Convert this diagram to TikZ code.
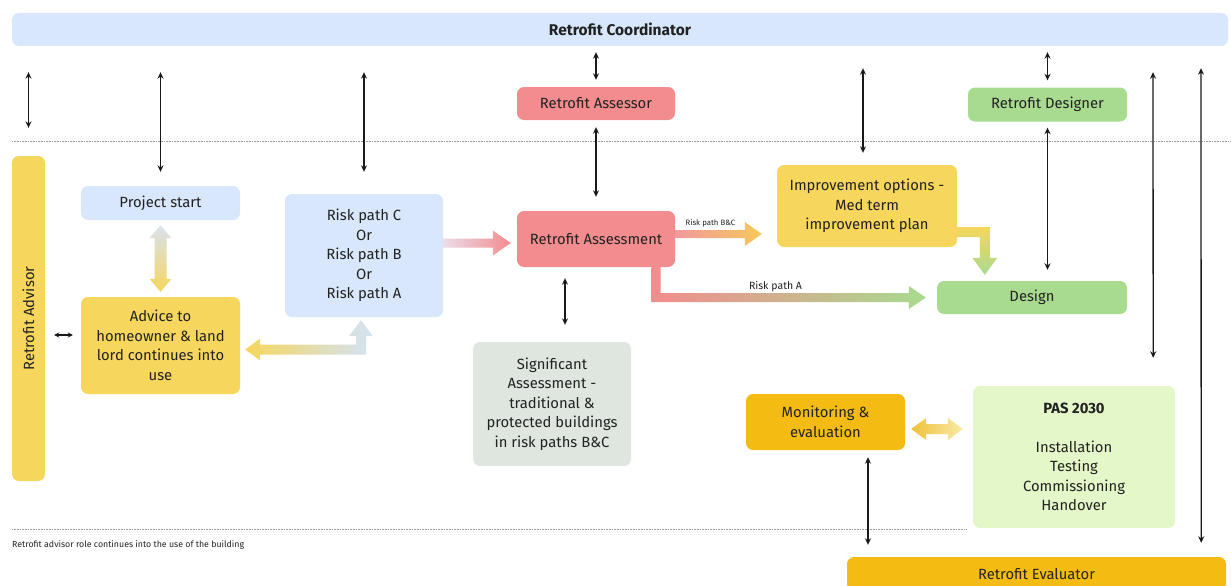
\documentclass[tikz,border=0pt]{standalone}
\usepackage{fontspec}
\setmainfont{Fira Sans}
\usetikzlibrary{arrows.meta,calc}

\definecolor{blueL}{HTML}{D8E7FB}
\definecolor{yellowB}{HTML}{F6D65D}
\definecolor{redB}{HTML}{F28C8E}
\definecolor{greenB}{HTML}{A8DB8F}
\definecolor{sigB}{HTML}{DEE6DF}
\definecolor{orangeB}{HTML}{F4BC13}
\definecolor{pasB}{HTML}{E4F7C8}
\definecolor{txt}{HTML}{222222}
\definecolor{pinkL}{HTML}{ECDCEA}
\definecolor{pinkM}{HTML}{F2999C}
\definecolor{yellowA}{HTML}{F5C95A}
\definecolor{blueA}{HTML}{D3E3F7}
\definecolor{grayA}{HTML}{D9E2EE}
\definecolor{monA}{HTML}{F0C03A}
\definecolor{monB}{HTML}{F8EBA6}

\newcommand\fatR[6]{%
  \path[#6] ($(#1)+(0,-#5)$) -- ($(#2)+(-#3,-#5)$) -- ($(#2)+(-#3,-#4)$) -- (#2)
    -- ($(#2)+(-#3,#4)$) -- ($(#2)+(-#3,#5)$) -- ($(#1)+(0,#5)$) -- cycle;}

\begin{document}
\begin{tikzpicture}[x=1pt,y=-1pt,
  box/.style={rounded corners=7pt, align=center, inner sep=0pt, text=txt,
    font=\fontsize{14.8}{19.5}\selectfont},
  conn/.style={draw=black!90, line width=1.3pt,
    {Stealth[length=6.5pt,width=6pt]}-{Stealth[length=6.5pt,width=6pt]}},
  dotline/.style={draw=gray!75, line width=0.6pt, dash pattern=on 0.8pt off 0.8pt}]
\useasboundingbox (0,0) rectangle (1231,586);

% nodes
\node[box, fill=blueL, minimum width=1216pt, minimum height=33pt,
  font=\fontsize{15.5}{17}\selectfont\bfseries] (coord) at (620,29.5) {Retrofit Coordinator};
\node[box, fill=yellowB, minimum width=325pt, minimum height=33pt, rotate=90] (advisor) at (28.5,318.5) {Retrofit Advisor};
\node[box, fill=redB, minimum width=158pt, minimum height=33pt] (assessor) at (596,103.5) {Retrofit Assessor};
\node[box, fill=greenB, minimum width=159pt, minimum height=34pt] (designer) at (1047.5,104.5) {Retrofit Designer};
\node[box, fill=blueL, minimum width=159pt, minimum height=34pt] (ps) at (160.5,203) {Project start};
\node[box, fill=yellowB, minimum width=159pt, minimum height=97pt] (advice) at (160.5,345.5)
  {Advice to\\homeowner \& land\\lord continues into\\use};
\node[box, fill=blueL, minimum width=158pt, minimum height=123pt] (risk) at (364,255.5)
  {Risk path C\\Or\\Risk path B\\Or\\Risk path A};
\node[box, fill=redB, minimum width=158pt, minimum height=56pt] (assess) at (596,239) {Retrofit Assessment};
\node[box, fill=sigB, minimum width=158pt, minimum height=124pt] (sig) at (552,404)
  {Significant\\Assessment -\\traditional \&\\protected buildings\\in risk paths B\&C};
\node[box, fill=yellowB, minimum width=180pt, minimum height=82pt] (impr) at (867,206)
  {Improvement options -\\Med term\\improvement plan};
\node[box, fill=greenB, minimum width=190pt, minimum height=33pt] (design) at (1032,297.5) {Design};
\node[box, fill=orangeB, minimum width=159pt, minimum height=56pt] (mon) at (825.5,422)
  {Monitoring \&\\evaluation};
\node[box, fill=pasB, minimum width=202pt, minimum height=142pt] (pas) at (1074,457)
  {\textbf{PAS 2030}\\[19.5pt]Installation\\Testing\\Commissioning\\Handover};
\node[box, fill=orangeB, minimum width=379pt, minimum height=34pt] (eval) at (1036.5,574) {Retrofit Evaluator};

% dotted separators
\draw[dotline] (12,141) -- (1231,141);
\draw[dotline] (12,529) -- (967,529);

% footnote
\node[anchor=west, text=txt, inner sep=0pt, font=\fontsize{8.8}{10}\selectfont] (foot) at (12,545)
  {Retrofit advisor role continues into the use of the building};

% thin connectors
\draw[conn, shorten <=26pt, shorten >=28pt] (coord.south -| advisor.east) -- (advisor.east);
\draw[conn, shorten <=26pt, shorten >=14pt] (coord.south -| ps.north) -- (ps.north);
\draw[conn, shorten <=26pt, shorten >=22pt] (coord.south -| risk.north) -- (risk.north);
\draw[conn, shorten <=6pt, shorten >=7pt] (coord.south -| assessor.north) -- (assessor.north);
\draw[conn, shorten <=7pt, shorten >=14pt] (assessor.south) -- (assessor.south |- assess.north);
\draw[conn, shorten <=22pt, shorten >=12pt] (coord.south -| 863,0) -- ([xshift=-4pt]impr.north);
\draw[conn, shorten <=6pt, shorten >=7pt] (coord.south -| designer.north) -- (designer.north);
\draw[conn, shorten <=6pt, shorten >=11pt] (designer.south) -- (designer.south |- design.north);
\draw[conn, shorten <=26pt, shorten >=28pt] (coord.south -| 1153,0) -- ([xshift=-22pt]pas.north east);
\draw[conn, shorten <=22pt, shorten >=14pt] (coord.south -| 1201,0) -- ([xshift=-25pt]eval.north east);
\draw[conn, shorten <=7pt, shorten >=12pt] ([xshift=42.5pt]mon.south) -- ([xshift=42.5pt]mon.south |- eval.north);
\draw[conn, shorten <=11pt, shorten >=17pt] ([xshift=-31pt]assess.south) -- ([xshift=-31pt]assess.south |- sig.north);
\draw[draw=black!90, line width=1.1pt, {Stealth[length=5pt,width=5pt]}-{Stealth[length=5pt,width=5pt]},
  shorten <=9pt, shorten >=8pt] ([yshift=10.5pt]advice.west -| advisor.south) -- ([yshift=10.5pt]advice.west);

% fat gradient arrows
% risk -> assessment
\coordinate (p1s) at ($(risk.east |- assess.west)+(0,4)$);
\coordinate (p1t) at ($(assess.west)+(-6,4)$);
\fatR{p1s}{p1t}{18}{12.5}{4.5}{left color=pinkL, right color=redB}

% assessment -> improvement (Risk path B&C)
\coordinate (p2s) at ($(assess.east)+(0,-5)$);
\coordinate (p2t) at ($(impr.west |- p2s)+(-15,0)$);
\fatR{p2s}{p2t}{17}{12}{4}{left color=pinkM, right color=yellowA}
\node[text=txt, font=\fontsize{7.8}{8}\selectfont, inner sep=0pt] (lblbc) at (710.5,223) {Risk path B\&C};

% assessment -> design (Risk path A)
\coordinate (p3s) at ($(assess.south east)+(-19,0)$);
\coordinate (p3t) at ($(design.west)+(-11,0)$);
\path[left color=redB, right color=greenB]
  ($(p3s)+(-4.5,0)$) -- ($(p3s |- p3t)+(-4.5,4.5)$) -- ($(p3t)+(-17,4.5)$) -- ($(p3t)+(-17,11.5)$)
  -- (p3t) -- ($(p3t)+(-17,-11.5)$) -- ($(p3t)+(-17,-4.5)$) -- ($(p3s |- p3t)+(4.5,-4.5)$)
  -- ($(p3s)+(4.5,0)$) -- cycle;
\node[text=txt, font=\fontsize{10.5}{11}\selectfont, inner sep=0pt] (lbla) at (775.5,287) {Risk path A};

% improvement -> design
\coordinate (p4s) at ($(impr.east)+(0,26)$);
\coordinate (p4t) at ($(design.north west)+(48,-6)$);
\path[top color=yellowB, bottom color=greenB]
  ($(p4s)+(0,-5)$) -- ($(p4t |- p4s)+(5,-5)$) -- ($(p4t)+(5,-17)$) -- ($(p4t)+(12.5,-17)$)
  -- (p4t) -- ($(p4t)+(-12.5,-17)$) -- ($(p4t)+(-5,-17)$) -- ($(p4t |- p4s)+(-5,5)$)
  -- ($(p4s)+(0,5)$) -- cycle;

% advice <-> risk
\coordinate (p5a) at ($(advice.east)+(5,4)$);
\coordinate (p5b) at ($(risk.south)+(-3,3)$);
\path[left color=yellowB, right color=blueA]
  (p5a) -- ($(p5a)+(15,-11)$) -- ($(p5a)+(15,-5)$) -- ($(p5b |- p5a)+(-5,-5)$) -- ($(p5b)+(-5,16)$)
  -- ($(p5b)+(-12,16)$) -- (p5b) -- ($(p5b)+(12,16)$) -- ($(p5b)+(5,16)$) -- ($(p5b |- p5a)+(5,5)$)
  -- ($(p5a)+(15,5)$) -- ($(p5a)+(15,11)$) -- cycle;

% project start <-> advice
\coordinate (p6a) at ($(ps.south)+(0,5)$);
\coordinate (p6b) at ($(advice.north)+(0,-5)$);
\path[top color=grayA, bottom color=yellowB]
  (p6a) -- ($(p6a)+(11,13)$) -- ($(p6a)+(6,13)$) -- ($(p6b)+(6,-13)$) -- ($(p6b)+(11,-13)$)
  -- (p6b) -- ($(p6b)+(-11,-13)$) -- ($(p6b)+(-6,-13)$) -- ($(p6a)+(-6,13)$) -- ($(p6a)+(-11,13)$) -- cycle;

% monitoring <-> PAS
\coordinate (p7a) at ($(mon.east)+(6,7)$);
\coordinate (p7b) at ($(pas.west |- p7a)+(-10,0)$);
\path[left color=monA, right color=monB]
  (p7a) -- ($(p7a)+(15,-11)$) -- ($(p7a)+(15,-5)$) -- ($(p7b)+(-15,-5)$) -- ($(p7b)+(-15,-11)$)
  -- (p7b) -- ($(p7b)+(-15,11)$) -- ($(p7b)+(-15,5)$) -- ($(p7a)+(15,5)$) -- ($(p7a)+(15,11)$) -- cycle;
\end{tikzpicture}
\end{document}
